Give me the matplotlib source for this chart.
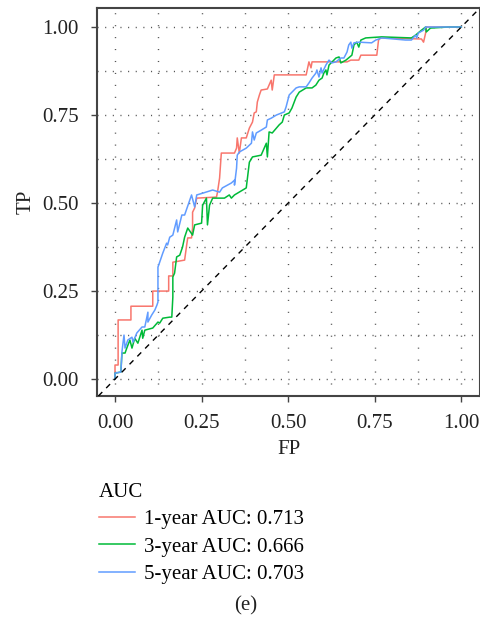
import matplotlib
matplotlib.use("Agg")
import matplotlib.pyplot as plt
import numpy as np

plt.rcParams['font.family'] = ['Liberation Serif', 'DejaVu Serif']

# ROC curve points (FP, TP)
fp_1yr = [0, 0, 0.009, 0.009, 0.046, 0.046, 0.109, 0.109, 0.155, 0.155, 0.167, 0.167,
          0.201, 0.207, 0.210, 0.221, 0.224, 0.224, 0.230, 0.236, 0.293, 0.296, 0.302,
          0.307, 0.345, 0.351, 0.353, 0.359, 0.365, 0.379, 0.388, 0.397, 0.402, 0.408,
          0.411, 0.417, 0.422, 0.440, 0.451, 0.454, 0.460, 0.552, 0.560, 0.566, 0.569,
          0.670, 0.681, 0.704, 0.710, 0.756, 0.761, 0.767, 0.885, 0.891, 0.897, 0.899, 1.0]
tp_1yr = [0, 0.040, 0.040, 0.168, 0.168, 0.207, 0.207, 0.250, 0.250, 0.293, 0.293, 0.332,
          0.338, 0.381, 0.401, 0.401, 0.429, 0.474, 0.486, 0.514, 0.517, 0.531, 0.571,
          0.642, 0.642, 0.656, 0.685, 0.642, 0.685, 0.685, 0.713, 0.730, 0.756, 0.759,
          0.787, 0.807, 0.821, 0.824, 0.849, 0.821, 0.864, 0.864, 0.901, 0.884, 0.901,
          0.901, 0.906, 0.906, 0.920, 0.920, 0.963, 0.969, 0.966, 0.957, 0.983, 1.0, 1.0]

fp_3yr = [0, 0, 0.017, 0.020, 0.029, 0.034, 0.043, 0.049, 0.057, 0.066, 0.078, 0.080,
          0.086, 0.109, 0.124, 0.129, 0.138, 0.158, 0.164, 0.167, 0.167, 0.172, 0.178,
          0.187, 0.195, 0.201, 0.210, 0.224, 0.230, 0.250, 0.253, 0.264, 0.267, 0.273,
          0.282, 0.316, 0.330, 0.336, 0.345, 0.379, 0.388, 0.397, 0.422, 0.437, 0.440,
          0.445, 0.454, 0.474, 0.483, 0.489, 0.503, 0.511, 0.523, 0.532, 0.552, 0.569,
          0.580, 0.589, 0.598, 0.603, 0.609, 0.612, 0.618, 0.638, 0.647, 0.652, 0.667,
          0.684, 0.690, 0.698, 0.704, 0.710, 0.724, 0.770, 0.856, 0.868, 0.885, 0.897,
          0.899, 0.911, 0.963, 1.0]
tp_3yr = [0, 0.017, 0.020, 0.074, 0.074, 0.088, 0.111, 0.088, 0.116, 0.102, 0.139, 0.116,
          0.139, 0.145, 0.162, 0.159, 0.173, 0.176, 0.176, 0.233, 0.290, 0.301, 0.347,
          0.352, 0.375, 0.403, 0.429, 0.409, 0.438, 0.443, 0.494, 0.514, 0.438, 0.494,
          0.514, 0.514, 0.523, 0.514, 0.523, 0.543, 0.616, 0.631, 0.636, 0.670, 0.631,
          0.702, 0.699, 0.722, 0.730, 0.750, 0.756, 0.770, 0.801, 0.815, 0.827, 0.827,
          0.835, 0.849, 0.855, 0.869, 0.878, 0.864, 0.892, 0.912, 0.915, 0.898, 0.906,
          0.920, 0.949, 0.957, 0.943, 0.963, 0.969, 0.972, 0.969, 0.977, 0.991, 1.0,
          0.986, 0.997, 1.0, 1.0]

fp_5yr = [0, 0, 0.017, 0.020, 0.023, 0.026, 0.029, 0.037, 0.049, 0.052, 0.063, 0.078,
          0.086, 0.095, 0.095, 0.106, 0.115, 0.121, 0.124, 0.124, 0.129, 0.138, 0.149,
          0.152, 0.158, 0.167, 0.178, 0.181, 0.193, 0.201, 0.221, 0.230, 0.236, 0.253,
          0.282, 0.302, 0.310, 0.336, 0.345, 0.345, 0.351, 0.353, 0.359, 0.379, 0.394,
          0.397, 0.402, 0.408, 0.422, 0.437, 0.440, 0.451, 0.466, 0.489, 0.494, 0.503,
          0.511, 0.523, 0.532, 0.552, 0.560, 0.569, 0.580, 0.583, 0.589, 0.595, 0.598,
          0.609, 0.618, 0.626, 0.638, 0.652, 0.661, 0.670, 0.675, 0.681, 0.684, 0.690,
          0.704, 0.741, 0.753, 0.770, 0.839, 0.856, 0.868, 0.871, 0.876, 0.891, 0.897,
          0.934, 0.983, 1.0]
tp_5yr = [0, 0.017, 0.020, 0.077, 0.102, 0.125, 0.088, 0.111, 0.119, 0.105, 0.131, 0.148,
          0.148, 0.190, 0.162, 0.182, 0.196, 0.210, 0.219, 0.318, 0.332, 0.358, 0.386,
          0.381, 0.403, 0.409, 0.452, 0.418, 0.466, 0.466, 0.523, 0.489, 0.523, 0.528,
          0.537, 0.531, 0.543, 0.557, 0.565, 0.551, 0.599, 0.636, 0.645, 0.656, 0.670,
          0.702, 0.679, 0.699, 0.707, 0.716, 0.736, 0.741, 0.750, 0.759, 0.773, 0.807,
          0.815, 0.827, 0.830, 0.830, 0.841, 0.855, 0.869, 0.878, 0.858, 0.884, 0.869,
          0.892, 0.906, 0.898, 0.901, 0.912, 0.912, 0.929, 0.949, 0.957, 0.940, 0.955,
          0.957, 0.955, 0.963, 0.969, 0.963, 0.963, 0.977, 0.969, 0.983, 0.991, 1.0,
          1.0, 1.0, 1.0]

labels = ["1-year AUC: 0.713", "3-year AUC: 0.666", "5-year AUC: 0.703"]
colors = ["#F8766D", "#00BA38", "#619CFF"]
ticks = [0, 0.25, 0.5, 0.75, 1.0]
tick_labels = ["0.00", "0.25", "0.50", "0.75", "1.00"]

fig = plt.figure(figsize=(4.81, 6.2), dpi=100)
ax = fig.add_axes([97/481, 224/620, 383/481, 388/620])

ax.set_xlim(-0.052, 1.054)
ax.set_ylim(-0.048, 1.054)

# dotted grid every 0.125
grid_pos = np.arange(0, 1.01, 0.125)
for g in grid_pos:
    ax.axhline(g, color="#555555", lw=1.0, ls=(0, (0.8, 4.7)), zorder=0)
    ax.axvline(g, color="#555555", lw=1.0, ls=(0, (0.8, 7.8)), zorder=0)

curves = [(fp_1yr, tp_1yr), (fp_3yr, tp_3yr), (fp_5yr, tp_5yr)]
for (fp, tp), c, lab in zip(curves, colors, labels):
    ax.plot(fp, tp, color=c, lw=1.1, label=lab, zorder=2)

ax.axline((0, 0), (1, 1), color="black", lw=1.0, ls=(0, (4, 4)), zorder=3)

ax.set_xticks(ticks)
ax.set_xticklabels(tick_labels)
ax.set_yticks(ticks)
ax.set_yticklabels(tick_labels)
ax.tick_params(length=4, width=1, color="#444444", labelsize=15, labelcolor="#222222", pad=9)
for s in ax.spines.values():
    s.set_color("#444444")
    s.set_linewidth(1.5)

ax.set_xlabel("FP", fontsize=15, color="#222222", labelpad=5)
ax.set_ylabel("TP", fontsize=15, color="#222222", labelpad=5)

leg = fig.legend(loc="upper left", bbox_to_anchor=(80/481, 1 - 464/620), title="AUC",
                 frameon=False, fontsize=15, title_fontsize=15, handlelength=1.75,
                 handletextpad=0.4, labelspacing=0.38)
leg._legend_box.align = "left"

fig.text(246/481, 1 - 606/620, "(e)", ha="center", va="center", fontsize=15, color="#222222")

fig.savefig("out.png", dpi=100)
